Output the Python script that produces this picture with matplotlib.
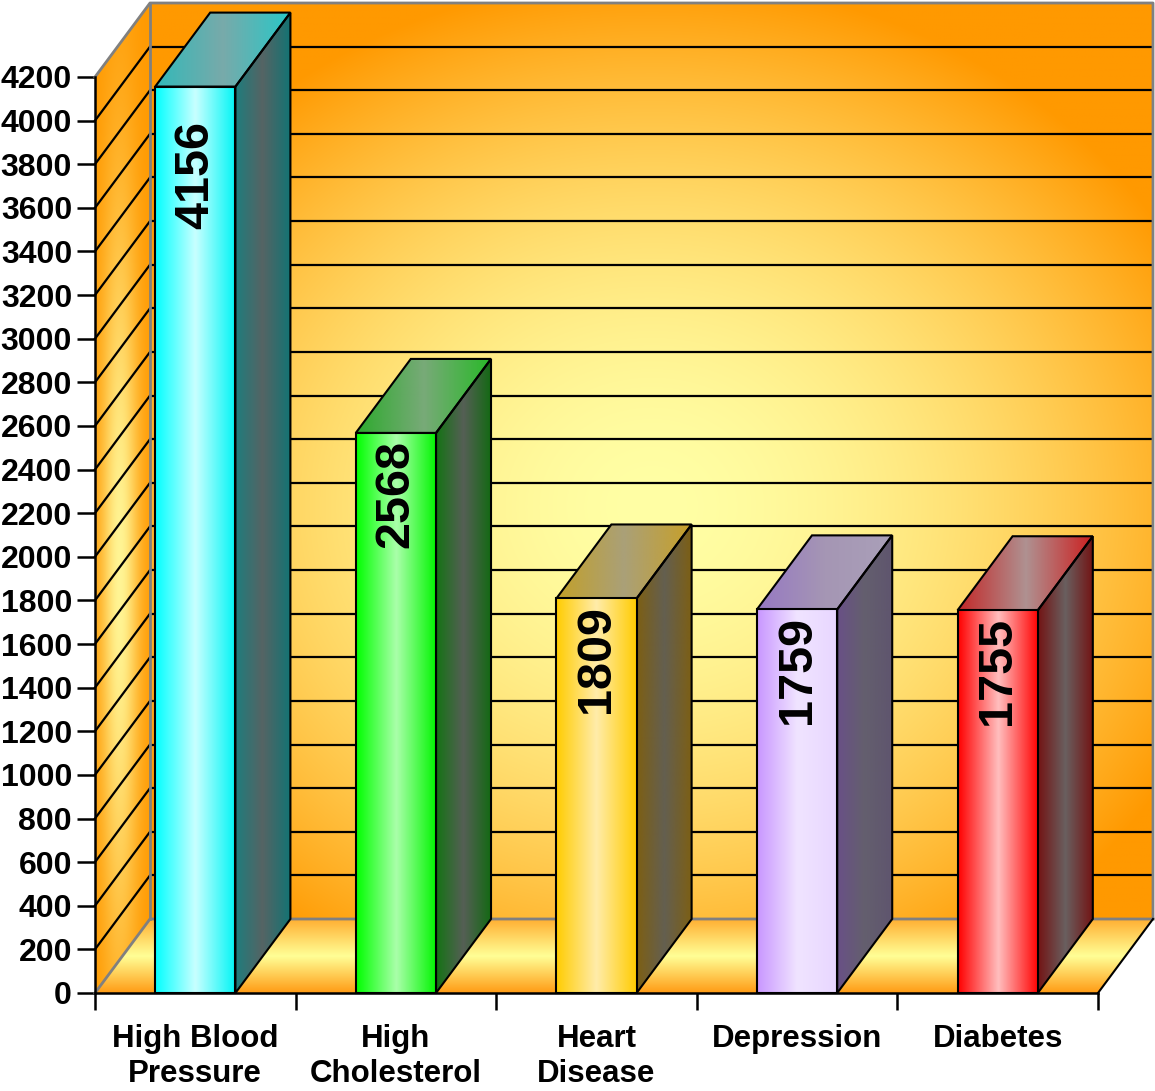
import numpy as np
import matplotlib
matplotlib.use('Agg')
import matplotlib.pyplot as plt
from matplotlib.patches import Polygon
from matplotlib.colors import LinearSegmentedColormap

plt.rcParams['font.family'] = ['Liberation Sans', 'DejaVu Sans']
plt.rcParams['font.weight'] = 'bold'

# data
categories = ['High Blood\nPressure', 'High\nCholesterol', 'Heart\nDisease', 'Depression', 'Diabetes']
values = [4156, 2568, 1809, 1759, 1755]
y_ticks = list(range(0, 4201, 200))

# face colours (edge, light, edge) per bar
front_cols = [
    [(0, 255, 255), (200, 255, 255), (0, 245, 245)],
    [(0, 255, 0), (170, 255, 170), (0, 245, 0)],
    [(255, 204, 0), (255, 236, 170), (255, 204, 0)],
    [(200, 150, 255), (240, 228, 255), (232, 214, 255)],
    [(255, 0, 0), (255, 190, 190), (255, 0, 0)],
]
side_cols = [
    [(30, 125, 125), (85, 100, 100), (20, 115, 115)],
    [(20, 115, 20), (85, 95, 85), (20, 105, 20)],
    [(125, 95, 20), (100, 95, 80), (125, 95, 20)],
    [(105, 80, 135), (100, 95, 110), (95, 85, 110)],
    [(115, 20, 20), (105, 95, 95), (115, 20, 20)],
]
top_cols = [
    [(50, 185, 185), (120, 170, 170), (40, 200, 200)],
    [(45, 170, 45), (120, 170, 120), (40, 185, 40)],
    [(195, 160, 40), (170, 160, 120), (200, 160, 40)],
    [(150, 120, 195), (165, 150, 180), (170, 160, 185)],
    [(195, 40, 40), (175, 145, 145), (205, 30, 30)],
]

W, H = 1155, 1091
fig = plt.figure(figsize=(W / 100, H / 100), dpi=100)
ax = fig.add_axes([95 / W, 1 - 993 / H, 1003 / W, 916 / H])

XMIN, XMAX, YMAX = -0.5, 4.5, 4200
DX = 55 / 1003 * 5
DY = 74 / 916 * 4200
BW = 0.4


def rgb(c):
    return tuple(x / 255 for x in c)


def shade(verts, stops, z, axis='x', ec='black', lw=1.5):
    poly = Polygon(verts, closed=True, fc='none', ec=ec, lw=lw, zorder=z + 0.5,
                   clip_on=False, joinstyle='miter')
    ax.add_patch(poly)
    xs = [p[0] for p in verts]
    ys = [p[1] for p in verts]
    g = np.linspace(0, 1, 256)
    g = g[None, :] if axis == 'x' else g[:, None]
    cmap = LinearSegmentedColormap.from_list(
        'g', [(p, rgb(c)) for p, c in zip([0, 0.5, 1], stops)])
    im = ax.imshow(g, cmap=cmap, vmin=0, vmax=1, origin='lower', aspect='auto',
                   extent=[min(xs), max(xs), min(ys), max(ys)],
                   interpolation='bilinear', zorder=z)
    im.set_clip_path(poly)
    im.set_clip_box(fig.bbox)
    return poly


light = np.array([255, 255, 165]) / 255
orange = np.array([255, 153, 0]) / 255

# back wall: radial glow
u, v = np.meshgrid(np.linspace(0, 1, 400), np.linspace(0, 1, 360))
t = np.sqrt(((u - 0.5) / 0.6) ** 2 + ((v - 0.45) / 0.58) ** 2).clip(0, 1)
img = light + (orange - light) * (t[..., None] ** 1.8)
ax.imshow(img, extent=[XMIN + DX, XMAX + DX, DY, YMAX + DY], origin='lower',
          aspect='auto', zorder=0, clip_on=False, interpolation='bilinear')

# left wall
lw_poly = Polygon([(XMIN, 0), (XMIN, YMAX), (XMIN + DX, YMAX + DY), (XMIN + DX, DY)],
                  closed=True, fc='none', ec='none', zorder=1)
ax.add_patch(lw_poly)
u, v = np.meshgrid(np.linspace(0, 1, 60), np.linspace(0, 1, 400))
amt = np.exp(-((u - 0.45) / 0.35) ** 2) * np.exp(-((v - 0.42) / 0.38) ** 2) * 0.9
img = orange + (light - orange) * amt[..., None]
im = ax.imshow(img, extent=[XMIN, XMIN + DX, 0, YMAX + DY], origin='lower',
               aspect='auto', zorder=0.5, interpolation='bilinear')
im.set_clip_path(lw_poly)
im.set_clip_box(fig.bbox)

# floor
shade([(XMIN, 0), (XMAX, 0), (XMAX + DX, DY), (XMIN + DX, DY)],
      [(255, 155, 20), (255, 255, 150), (255, 175, 50)], 0.6, axis='y', ec='none')

# grid lines on walls
for y in y_ticks[1:-1]:
    ax.plot([XMIN + DX, XMAX + DX], [y + DY, y + DY], color='black', lw=1.6,
            zorder=2, clip_on=False, solid_capstyle='butt')
    ax.plot([XMIN, XMIN + DX], [y, y + DY], color='black', lw=1.6,
            zorder=2, clip_on=False)

# wall outlines
gray = '#808080'
ax.plot([XMIN, XMIN + DX, XMAX + DX, XMAX + DX], [YMAX, YMAX + DY, YMAX + DY, DY],
        color=gray, lw=2, zorder=2.5, clip_on=False)
ax.plot([XMIN + DX, XMIN + DX], [DY, YMAX + DY], color=gray, lw=2, zorder=2.5, clip_on=False)
ax.plot([XMIN, XMIN + DX, XMAX + DX], [0, DY, DY], color=gray, lw=2, zorder=2.5, clip_on=False)
ax.plot([XMAX, XMAX + DX], [0, DY], color='black', lw=1.5, zorder=2.5, clip_on=False)

# bars
label_drop = [34, 7, 7, 7, 7]  # px below bar top
for i, val in enumerate(values):
    x0, x1 = i - BW / 2, i + BW / 2
    z = 3 + i
    shade([(x1, 0), (x1, val), (x1 + DX, val + DY), (x1 + DX, DY)], side_cols[i], z)
    shade([(x0, val), (x1, val), (x1 + DX, val + DY), (x0 + DX, val + DY)], top_cols[i], z)
    shade([(x0, 0), (x1, 0), (x1, val), (x0, val)], front_cols[i], z + 0.6)
    ax.annotate(f'{val}', xy=(i, val), xytext=(0, -label_drop[i] * 0.72),
                textcoords='offset points', rotation=90, ha='center', va='top',
                fontsize=35, fontweight='bold', zorder=z + 0.9)

ax.set_xlim(XMIN, XMAX)
ax.set_ylim(0, YMAX)
ax.patch.set_visible(False)
for s in ['top', 'right']:
    ax.spines[s].set_visible(False)
for s in ['left', 'bottom']:
    ax.spines[s].set_linewidth(1.8)
    ax.spines[s].set_zorder(10)

ax.set_yticks(y_ticks)
ax.set_yticklabels([str(y) for y in y_ticks], fontsize=23, fontweight='bold')
ax.tick_params(axis='y', length=13, width=1.8, pad=3.5)
ax.set_xticks(range(len(categories)))
ax.set_xticklabels(categories, fontsize=22.5, fontweight='bold', linespacing=1.22)
ax.set_xticks(np.arange(XMIN, XMAX + 0.01, 1), minor=True)
ax.tick_params(axis='x', which='major', length=0, pad=22)
ax.tick_params(axis='x', which='minor', length=12, width=1.8)

fig.savefig('out.png', dpi=100)
